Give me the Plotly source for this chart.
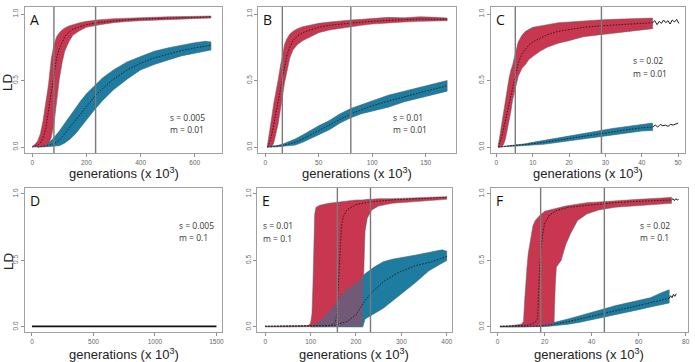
import plotly.graph_objects as go

RED = "#C93650"
BLUE = "#1F7CA1"
FRINGE = "rgba(105,105,105,0.55)"

# ---------------- Panel A (s = 0.005, m = 0.01) ----------------
A_red_x = [0, 10, 20, 30, 40, 50, 60, 70, 80, 90, 100, 110, 120, 135, 150, 175, 200, 250, 300, 350, 400, 450, 500, 550, 600, 660]
A_red_hi = [0.005, 0.02, 0.045, 0.1, 0.2, 0.33, 0.47, 0.66, 0.77, 0.83, 0.86, 0.88, 0.895, 0.91, 0.92, 0.935, 0.945, 0.958, 0.965, 0.97, 0.973, 0.976, 0.979, 0.981, 0.983, 0.985]
A_red_lo = [0.0, 0.0, 0.0, 0.003, 0.005, 0.01, 0.02, 0.07, 0.17, 0.34, 0.51, 0.63, 0.72, 0.79, 0.84, 0.875, 0.9, 0.92, 0.935, 0.944, 0.95, 0.955, 0.96, 0.963, 0.966, 0.97]
A_red_mean = [0.0, 0.005, 0.015, 0.03, 0.07, 0.14, 0.27, 0.42, 0.56, 0.67, 0.74, 0.79, 0.83, 0.865, 0.885, 0.905, 0.92, 0.938, 0.95, 0.957, 0.962, 0.966, 0.97, 0.973, 0.976, 0.978]
A_blue_x = [20, 40, 60, 80, 100, 120, 140, 160, 180, 200, 230, 260, 300, 350, 400, 450, 500, 550, 600, 640, 660]
A_blue_hi = [0.005, 0.01, 0.03, 0.07, 0.12, 0.18, 0.24, 0.29, 0.35, 0.4, 0.46, 0.52, 0.58, 0.64, 0.68, 0.72, 0.745, 0.765, 0.785, 0.795, 0.79]
A_blue_lo = [0.0, 0.0, 0.002, 0.005, 0.01, 0.03, 0.06, 0.1, 0.15, 0.2, 0.28, 0.35, 0.43, 0.51, 0.58, 0.62, 0.655, 0.685, 0.705, 0.72, 0.73]
A_blue_mean = [0.0, 0.005, 0.012, 0.025, 0.05, 0.1, 0.15, 0.2, 0.25, 0.3, 0.38, 0.44, 0.51, 0.58, 0.63, 0.67, 0.7, 0.725, 0.745, 0.76, 0.765]
A_vlines = [80, 234]

# ---------------- Panel B (s = 0.01, m = 0.01) ----------------
B_red_x = [2, 4, 6, 8, 10, 12, 14, 16, 18, 20, 23, 26, 30, 35, 40, 50, 60, 70, 80, 90, 100, 115, 130, 145, 160, 170]
B_red_hi = [0.01, 0.1, 0.22, 0.33, 0.41, 0.5, 0.6, 0.7, 0.77, 0.81, 0.85, 0.87, 0.89, 0.905, 0.915, 0.93, 0.94, 0.95, 0.955, 0.96, 0.965, 0.975, 0.972, 0.98, 0.975, 0.97]
B_red_lo = [0.0, 0.0, 0.0, 0.03, 0.1, 0.17, 0.25, 0.37, 0.48, 0.57, 0.67, 0.73, 0.77, 0.8, 0.82, 0.86, 0.88, 0.895, 0.905, 0.915, 0.925, 0.935, 0.94, 0.945, 0.95, 0.95]
B_red_mean = [0.0, 0.03, 0.09, 0.17, 0.25, 0.33, 0.42, 0.52, 0.61, 0.68, 0.75, 0.8, 0.835, 0.86, 0.875, 0.9, 0.915, 0.925, 0.935, 0.94, 0.945, 0.953, 0.958, 0.962, 0.962, 0.96]
B_blue_x = [2, 10, 16, 22, 28, 35, 42, 50, 60, 70, 80, 90, 100, 115, 130, 145, 160, 170]
B_blue_hi = [0.005, 0.01, 0.02, 0.04, 0.06, 0.09, 0.125, 0.16, 0.2, 0.25, 0.29, 0.32, 0.35, 0.39, 0.42, 0.45, 0.48, 0.5]
B_blue_lo = [0.0, 0.0, 0.005, 0.01, 0.015, 0.035, 0.06, 0.09, 0.13, 0.18, 0.22, 0.25, 0.27, 0.3, 0.34, 0.37, 0.4, 0.42]
B_blue_mean = [0.0, 0.005, 0.012, 0.022, 0.035, 0.06, 0.09, 0.12, 0.165, 0.21, 0.25, 0.28, 0.31, 0.345, 0.38, 0.41, 0.44, 0.46]
B_vlines = [16, 80]

# ---------------- Panel C (s = 0.02, m = 0.01) ----------------
C_red_x = [0.5, 1, 1.5, 2, 2.5, 3, 3.5, 4, 4.5, 5, 5.5, 6, 7, 8, 9, 10, 12, 14, 17, 20, 24, 28, 32, 36, 40, 43]
C_red_hi = [0.01, 0.1, 0.18, 0.28, 0.37, 0.45, 0.52, 0.58, 0.62, 0.68, 0.74, 0.79, 0.84, 0.87, 0.885, 0.9, 0.91, 0.92, 0.935, 0.94, 0.95, 0.955, 0.96, 0.965, 0.965, 0.97]
C_red_lo = [0.0, 0.0, 0.0, 0.02, 0.06, 0.12, 0.19, 0.27, 0.36, 0.43, 0.48, 0.53, 0.59, 0.62, 0.66, 0.68, 0.72, 0.75, 0.78, 0.8, 0.83, 0.845, 0.855, 0.87, 0.88, 0.89]
C_red_mean = [0.0, 0.04, 0.08, 0.14, 0.2, 0.27, 0.33, 0.4, 0.46, 0.52, 0.58, 0.63, 0.7, 0.74, 0.77, 0.79, 0.82, 0.845, 0.87, 0.885, 0.9, 0.91, 0.915, 0.925, 0.93, 0.935]
C_red_tail_x = [43, 43.6, 44.2, 44.8, 45.4, 46.0, 46.6, 47.2, 47.8, 48.4, 49.0, 49.6, 50.2]
C_red_tail_y = [0.935, 0.95, 0.92, 0.945, 0.93, 0.955, 0.935, 0.95, 0.925, 0.955, 0.94, 0.96, 0.93]
C_blue_x = [0.5, 3, 6, 8, 10, 13, 16, 20, 24, 28, 32, 36, 40, 43]
C_blue_hi = [0.0, 0.008, 0.015, 0.025, 0.035, 0.05, 0.065, 0.085, 0.105, 0.125, 0.14, 0.155, 0.17, 0.18]
C_blue_lo = [0.0, 0.004, 0.008, 0.01, 0.015, 0.02, 0.03, 0.045, 0.06, 0.075, 0.09, 0.105, 0.12, 0.125]
C_blue_mean = [0.0, 0.006, 0.012, 0.018, 0.025, 0.035, 0.048, 0.065, 0.082, 0.1, 0.115, 0.13, 0.145, 0.15]
C_blue_tail_x = [43, 43.7, 44.4, 45.1, 45.8, 46.5, 47.2, 47.9, 48.6, 49.3, 50.0]
C_blue_tail_y = [0.15, 0.165, 0.15, 0.17, 0.16, 0.165, 0.155, 0.17, 0.165, 0.175, 0.18]
C_vlines = [5.2, 28.9]

# ---------------- Panel D (s = 0.005, m = 0.1) ----------------
D_x = [0, 1500]
D_y = [0.005, 0.005]

# ---------------- Panel E (s = 0.01, m = 0.1) ----------------
E_red_x = [0, 50, 95, 100, 103, 105, 107, 109, 112, 120, 140, 160, 180, 200, 214, 216, 218, 220, 225, 235, 250, 280, 320, 360, 400]
E_red_hi = [0.005, 0.005, 0.01, 0.03, 0.1, 0.3, 0.6, 0.85, 0.9, 0.915, 0.93, 0.94, 0.95, 0.955, 0.955, 0.956, 0.957, 0.958, 0.96, 0.96, 0.965, 0.965, 0.97, 0.975, 0.98]
E_red_lo = [0.0, 0.0, 0.0, 0.0, 0.0, 0.0, 0.0, 0.0, 0.0, 0.0, 0.0, 0.002, 0.004, 0.005, 0.01, 0.2, 0.5, 0.72, 0.82, 0.88, 0.91, 0.93, 0.94, 0.95, 0.96]
E_red_mean_x = [0, 100, 140, 150, 155, 158, 161, 163, 165, 168, 172, 180, 200, 230, 280, 340, 400]
E_red_mean = [0.005, 0.005, 0.01, 0.02, 0.04, 0.1, 0.3, 0.5, 0.66, 0.76, 0.83, 0.88, 0.92, 0.94, 0.955, 0.965, 0.975]
E_blue_x = [100, 110, 125, 150, 163, 175, 200, 215, 220, 240, 260, 280, 300, 330, 360, 390, 400]
E_blue_hi = [0.005, 0.02, 0.06, 0.15, 0.22, 0.27, 0.33, 0.38, 0.4, 0.45, 0.49, 0.51, 0.52, 0.54, 0.56, 0.58, 0.57]
E_blue_lo = [0.0, 0.0, 0.0, 0.0, 0.0, 0.0, 0.0, 0.0, 0.06, 0.1, 0.14, 0.19, 0.25, 0.33, 0.42, 0.48, 0.5]
E_blue_mean_x = [0, 100, 150, 180, 200, 220, 235, 260, 294, 330, 367, 400]
E_blue_mean = [0.005, 0.005, 0.01, 0.04, 0.09, 0.2, 0.26, 0.34, 0.41, 0.46, 0.49, 0.53]
E_vlines = [159, 232]

# ---------------- Panel F (s = 0.02, m = 0.1) ----------------
F_red_x = [1, 5, 10, 11, 11.5, 12, 12.5, 13, 14, 15, 16, 18, 20, 23, 24, 24.5, 25, 27, 29, 31, 34, 38, 43, 50, 60, 70, 74]
F_red_hi = [0.005, 0.008, 0.02, 0.04, 0.2, 0.35, 0.45, 0.55, 0.65, 0.76, 0.8, 0.84, 0.87, 0.885, 0.89, 0.89, 0.895, 0.9, 0.91, 0.915, 0.925, 0.935, 0.94, 0.95, 0.96, 0.97, 0.975]
F_red_lo = [0.0, 0.0, 0.0, 0.0, 0.0, 0.0, 0.0, 0.0, 0.0, 0.0, 0.002, 0.005, 0.008, 0.015, 0.02, 0.3, 0.45, 0.5, 0.62, 0.7, 0.8, 0.85, 0.88, 0.9, 0.915, 0.925, 0.93]
F_red_mean_x = [1, 8, 12, 14, 16, 17, 17.5, 18, 19, 20, 22, 25, 30, 40, 50, 60, 70, 74]
F_red_mean = [0.005, 0.008, 0.012, 0.02, 0.035, 0.06, 0.3, 0.5, 0.68, 0.78, 0.84, 0.875, 0.9, 0.92, 0.935, 0.945, 0.955, 0.955]
F_red_tail_x = [74, 74.6, 75.2, 75.8, 76.4, 77.0]
F_red_tail_y = [0.955, 0.965, 0.95, 0.965, 0.955, 0.96]
F_blue_x = [1, 10, 18, 22, 26, 30, 35, 40, 45, 50, 55, 60, 65, 70, 73]
F_blue_hi = [0.005, 0.008, 0.012, 0.025, 0.04, 0.06, 0.085, 0.11, 0.14, 0.16, 0.18, 0.2, 0.22, 0.26, 0.28]
F_blue_lo = [0.0, 0.0, 0.002, 0.005, 0.01, 0.02, 0.035, 0.05, 0.07, 0.09, 0.11, 0.13, 0.15, 0.17, 0.18]
F_blue_mean = [0.003, 0.005, 0.007, 0.015, 0.025, 0.04, 0.06, 0.08, 0.1, 0.125, 0.145, 0.165, 0.185, 0.205, 0.215]
F_blue_tail_x = [73, 73.6, 74.2, 74.8, 75.4, 76.0]
F_blue_tail_y = [0.215, 0.235, 0.22, 0.245, 0.23, 0.25]
F_vlines = [18.3, 45.4]

# ---------------- Labels ----------------
panel_letters = ["A", "B", "C", "D", "E", "F"]
s_labels = ["s = 0.005", "s = 0.01", "s = 0.02", "s = 0.005", "s = 0.01", "s = 0.02"]
m_labels = ["m = 0.01", "m = 0.01", "m = 0.01", "m = 0.1", "m = 0.1", "m = 0.1"]
x_ticks = [[0, 200, 400, 600], [0, 50, 100, 150], [0, 10, 20, 30, 40, 50],
           [0, 500, 1000, 1500], [0, 100, 200, 300, 400], [0, 20, 40, 60, 80]]
y_ticks = [0.0, 0.5, 1.0]
y_tick_text = ["0.0", "0.5", "1.0"]
x_title = "generations (x 10<sup>3</sup>)"
y_title = "LD"

# ---------------- Layout geometry (pixels) ----------------
W, H = 695, 362
px_boxes = [(25, 223, 7, 153), (259, 457, 7, 153), (492, 687, 7, 153),
            (25, 223, 188, 332), (258, 453, 188, 332), (492, 690, 188, 332)]
x_ranges = [[-27, 702], [-6.5, 178], [-1.6, 51.9], [-57, 1548], [-17.6, 411], [-3, 81]]
y_ranges = [[-0.045, 1.053]] * 3 + [[-0.038, 1.045]] * 3
stat_pos = [(168, 117), (392, 117), (633, 61), (178, 225), (262, 226), (640, 225)]

fig = go.Figure()


def ax_names(i):
    n = "" if i == 0 else str(i + 1)
    return "x" + n, "y" + n


def add_band(i, x, lo, hi, color, opacity=1.0, fringe=True):
    xa, ya = ax_names(i)
    px = list(x) + list(x)[::-1]
    py = list(hi) + list(lo)[::-1]
    fig.add_trace(go.Scatter(x=px, y=py, xaxis=xa, yaxis=ya, mode="lines", fill="toself",
                             fillcolor=color, opacity=opacity,
                             line=dict(color=FRINGE if fringe else "rgba(0,0,0,0)", width=1),
                             hoverinfo="skip", showlegend=False))


def add_line(i, x, y, dash="1.5px,1.5px", width=0.9, color="#1a1a1a"):
    xa, ya = ax_names(i)
    fig.add_trace(go.Scatter(x=x, y=y, xaxis=xa, yaxis=ya, mode="lines",
                             line=dict(color=color, width=width, dash=dash),
                             hoverinfo="skip", showlegend=False))


panels = [
    dict(red=(A_red_x, A_red_lo, A_red_hi, A_red_x, A_red_mean),
         blue=(A_blue_x, A_blue_lo, A_blue_hi, A_blue_x, A_blue_mean), vl=A_vlines, tails=[]),
    dict(red=(B_red_x, B_red_lo, B_red_hi, B_red_x, B_red_mean),
         blue=(B_blue_x, B_blue_lo, B_blue_hi, B_blue_x, B_blue_mean), vl=B_vlines, tails=[]),
    dict(red=(C_red_x, C_red_lo, C_red_hi, C_red_x, C_red_mean),
         blue=(C_blue_x, C_blue_lo, C_blue_hi, C_blue_x, C_blue_mean), vl=C_vlines,
         tails=[(C_red_tail_x, C_red_tail_y), (C_blue_tail_x, C_blue_tail_y)]),
    dict(red=None, blue=None, vl=[], tails=[]),
    dict(red=(E_red_x, E_red_lo, E_red_hi, E_red_mean_x, E_red_mean),
         blue=(E_blue_x, E_blue_lo, E_blue_hi, E_blue_mean_x, E_blue_mean), vl=E_vlines, tails=[]),
    dict(red=(F_red_x, F_red_lo, F_red_hi, F_red_mean_x, F_red_mean),
         blue=(F_blue_x, F_blue_lo, F_blue_hi, F_blue_x, F_blue_mean), vl=F_vlines,
         tails=[(F_red_tail_x, F_red_tail_y), (F_blue_tail_x, F_blue_tail_y)]),
]

shapes = []
annotations = []
layout_axes = {}
for i, p in enumerate(panels):
    xa, ya = ax_names(i)
    if p["red"] is not None:
        bx, blo, bhi, bmx, bm = p["blue"]
        rx, rlo, rhi, rmx, rm = p["red"]
        add_band(i, bx, blo, bhi, BLUE)
        add_band(i, rx, rlo, rhi, RED)
        add_band(i, bx, blo, bhi, BLUE, opacity=0.5, fringe=False)
        add_line(i, rmx, rm)
        add_line(i, bmx, bm)
        for tx, ty in p["tails"]:
            add_line(i, tx, ty, dash="solid", width=1.0)
    else:
        add_line(i, D_x, D_y, dash="solid", width=1.8, color="#111")
    for v in p["vl"]:
        shapes.append(dict(type="line", xref=xa, yref=ya + " domain", x0=v, x1=v, y0=0, y1=1,
                           line=dict(color="#7a7a7a", width=1.4), layer="above"))

    l, r, t, b = px_boxes[i]
    xdom = [l / W, r / W]
    ydom = [1 - b / H, 1 - t / H]
    key_x = "xaxis" if i == 0 else "xaxis%d" % (i + 1)
    key_y = "yaxis" if i == 0 else "yaxis%d" % (i + 1)
    layout_axes[key_x] = dict(domain=xdom, range=x_ranges[i], anchor=ya, showgrid=False, zeroline=False,
                              showline=True, mirror=True, linecolor="#a0a0a0", linewidth=1,
                              ticks="outside", ticklen=3, tickcolor="#909090", tickwidth=1,
                              tickvals=x_ticks[i], ticktext=[str(v) for v in x_ticks[i]],
                              tickfont=dict(family="Liberation Sans", size=6.5, color="#666"))
    layout_axes[key_y] = dict(domain=ydom, range=y_ranges[i], anchor=xa, showgrid=False, zeroline=False,
                              showline=True, mirror=True, linecolor="#a0a0a0", linewidth=1,
                              ticks="outside", ticklen=3, tickcolor="#909090", tickwidth=1,
                              tickvals=y_ticks, ticktext=y_tick_text, tickangle=-90,
                              tickfont=dict(family="Liberation Sans", size=6.5, color="#666"))

    annotations.append(dict(text=panel_letters[i], xref="paper", yref="paper",
                            x=(l + 3) / W, y=1 - (t + 12) / H, xanchor="left", yanchor="middle",
                            showarrow=False, font=dict(family="Open Sans", size=14, color="#111")))
    sx, sy = stat_pos[i]
    annotations.append(dict(text=s_labels[i], xref="paper", yref="paper", x=sx / W, y=1 - sy / H,
                            xanchor="left", yanchor="middle", showarrow=False,
                            font=dict(family="Open Sans", size=8.5, color="#333")))
    annotations.append(dict(text=m_labels[i], xref="paper", yref="paper", x=sx / W, y=1 - (sy + 12.5) / H,
                            xanchor="left", yanchor="middle", showarrow=False,
                            font=dict(family="Open Sans", size=8.5, color="#333")))
    ty = 173 if i < 3 else 354
    annotations.append(dict(text=x_title, xref="paper", yref="paper", x=((l + r) / 2) / W, y=1 - ty / H,
                            xanchor="center", yanchor="middle", showarrow=False,
                            font=dict(family="Liberation Sans", size=13, color="#222")))

for cy in (82, 261):
    annotations.append(dict(text=y_title, xref="paper", yref="paper", x=8 / W, y=1 - cy / H,
                            xanchor="center", yanchor="middle", showarrow=False, textangle=-90,
                            font=dict(family="Liberation Sans", size=13.5, color="#222")))

fig.update_layout(width=W, height=H, margin=dict(l=0, r=0, t=0, b=0),
                  paper_bgcolor="white", plot_bgcolor="white",
                  shapes=shapes, annotations=annotations, showlegend=False, **layout_axes)

fig.write_html("out.html")
